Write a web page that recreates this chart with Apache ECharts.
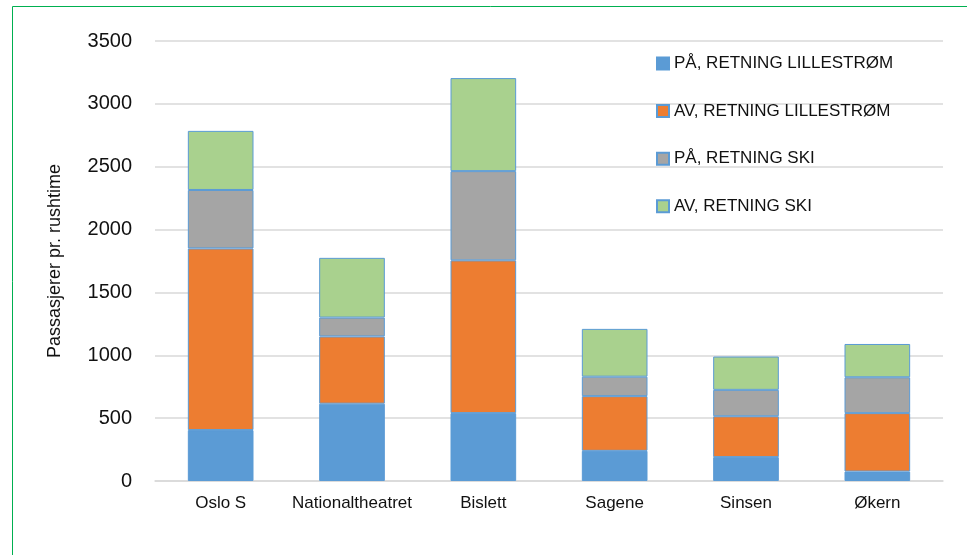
<!DOCTYPE html>
<html>
<head>
<meta charset="utf-8">
<style>
  html, body { margin: 0; padding: 0; background: #fff; }
  #chart { width: 967px; height: 555px; }
</style>
<script src="https://cdn.jsdelivr.net/npm/echarts@6/dist/echarts.min.js"></script>
</head>
<body>
<div id="chart"></div>
<script>
// stasjoner
var stations = ['Oslo S', 'Nationaltheatret', 'Bislett', 'Sagene', 'Sinsen', 'Økern'];
var seriesNames = ['PÅ, RETNING LILLESTRØM', 'AV, RETNING LILLESTRØM', 'PÅ, RETNING SKI', 'AV, RETNING SKI'];
var paLillestrom = [405, 615, 540, 240, 190, 75];
var avLillestrom = [1445, 535, 1215, 435, 325, 465];
var paSki = [465, 150, 710, 155, 210, 285];
var avSki = [470, 475, 740, 380, 265, 265];
var yTicks = [0, 500, 1000, 1500, 2000, 2500, 3000, 3500];

var colors = ['#5B9BD5', '#ED7D31', '#A5A5A5', '#A9D18E'];
var values = [paLillestrom, avLillestrom, paSki, avSki];
var font = '"Liberation Sans", Arial, sans-serif';

var chart = echarts.init(document.getElementById('chart'));

var series = seriesNames.map(function (name, i) {
    return {
        name: name,
        type: 'bar',
        stack: 'total',
        barWidth: '50%',
        data: values[i],
        itemStyle: {
            color: colors[i],
            borderColor: '#5B9BD5',
            borderWidth: 1
        }
    };
});

var option = {
    animation: false,
    textStyle: { fontFamily: font },
    graphic: [{
        type: 'rect',
        shape: { x: 12.5, y: 6.5, width: 1000, height: 600 },
        style: { fill: 'none', stroke: '#00B050', lineWidth: 1 },
        silent: true
    }],
    grid: { left: 155, right: 24, top: 41, bottom: 74 },
    legend: {
        orient: 'vertical',
        left: 651,
        top: 50,
        icon: 'rect',
        itemWidth: 12,
        itemHeight: 12,
        itemGap: 30.6,
        data: seriesNames,
        textStyle: { fontSize: 17, color: '#111', fontFamily: font }
    },
    xAxis: {
        type: 'category',
        data: stations,
        axisTick: { show: false },
        axisLine: { lineStyle: { color: '#d9d9d9', width: 1.5 } },
        axisLabel: { interval: 0, fontSize: 17, color: '#111', margin: 14, fontFamily: font }
    },
    yAxis: {
        type: 'value',
        min: yTicks[0],
        max: yTicks[yTicks.length - 1],
        interval: 500,
        name: 'Passasjerer pr. rushtime',
        nameLocation: 'middle',
        nameGap: 91,
        nameTextStyle: { fontSize: 18, color: '#111', fontFamily: font },
        axisLine: { show: false },
        axisTick: { show: false },
        axisLabel: {
            fontSize: 20, color: '#111', margin: 23, fontFamily: font,
            formatter: function (v) { return String(v); }
        },
        splitLine: { lineStyle: { color: '#d9d9d9', width: 1.5 } }
    },
    series: series
};

chart.setOption(option);
window.addEventListener('resize', function () {
    chart.resize();
});
</script>
</body>
</html>
